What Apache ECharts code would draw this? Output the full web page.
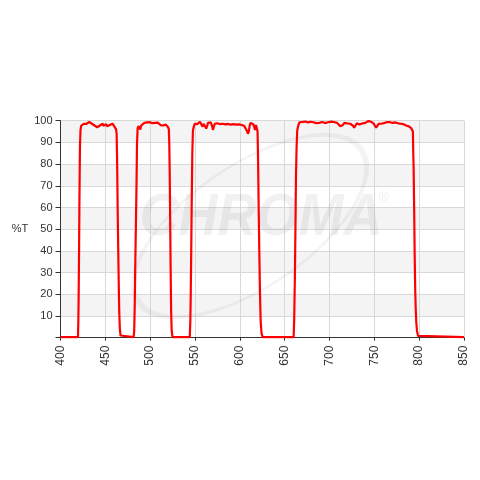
<!DOCTYPE html>
<html>
<head>
<meta charset="utf-8">
<script src="https://cdn.jsdelivr.net/npm/echarts@6/dist/echarts.min.js"></script>
<style>
  html, body { margin: 0; padding: 0; background: #fff; }
  #chart { width: 480px; height: 480px; }
</style>
</head>
<body>
<div id="chart"></div>
<script>
// 波长 (nm) 与透过率 (%T)
var wavelength = [
  400, 419.5, 419.9, 420.2, 420.7, 421.1, 421.7, 422.3,
  423, 424, 425, 426, 427, 428, 429, 430, 431, 432, 433, 434, 435, 436, 437, 438, 439, 440,
  441, 442, 443, 444, 445, 446, 447, 448, 449, 450, 451, 452, 453, 454, 455, 456, 457, 458,
  459, 460, 461, 462,
  462.6, 463, 463.3, 463.8, 464.4, 465, 465.5, 466.2, 467, 468,
  481.5, 482.2, 482.8, 483.4, 484.2, 484.8, 485.3, 486,
  487, 488, 489, 490, 491, 492, 493.5, 495, 496.5, 498, 499.5, 501, 502.5, 504, 505.5, 507,
  508.5, 510, 511.5, 513, 514.5, 516, 517.5, 519, 520,
  520.8, 521.3, 521.8, 522.3, 522.8, 523.4, 524, 525,
  544.2, 544.8, 545.2, 545.8, 546.3, 547, 547.7,
  548.5, 549.5, 550.5, 551.5, 552.5, 553.5, 554.5, 555.5, 556.5, 557.5, 558.5, 559.5, 560.5,
  561.5, 562.5, 563.5, 564.5, 566, 567.5, 569, 570, 571, 572, 573.5, 575, 576.5, 578, 579.5,
  581, 582.5, 584, 585.5, 587, 588.5, 590, 591.5, 593, 594.5, 596, 597.5, 599, 600.5, 602,
  603.5, 605, 606.5, 608, 609, 610, 611, 612, 613, 614, 615, 616, 617, 618, 619,
  619.8, 620.4, 621, 621.7, 622.4, 623.2, 624.2, 625.5,
  660, 660.6, 661.4, 662, 662.6, 663.3, 664, 665.3,
  666.5, 668, 669.5, 671, 673, 674.5, 676, 677.5, 679, 680.5, 682, 683.5, 685, 687, 688.5,
  690, 692, 693.5, 695, 697, 698.5, 700, 702, 703.5, 705, 707, 708.5, 710, 712, 713.5, 715,
  716.5, 718, 719.5, 721, 723, 724.5, 726, 727.5, 729, 730.5, 732, 733.5, 735.5, 737, 738.5,
  740, 741.5, 743, 744.5, 746, 747.5, 749, 750.5, 752, 753.5, 755, 756.5, 758, 760, 761.5,
  763, 764.5, 766, 767.5, 769, 770.5, 772, 773.5, 775, 776.5, 778, 779.5, 781, 782.5, 784,
  785.5, 787, 788.5, 790, 791, 792,
  793, 793.4, 793.8, 794.4, 795, 795.6, 796.1, 796.8, 797.6, 798.8, 800, 850
]
var transmission = [
  0.3, 0.3, 8, 17, 40, 63, 88, 95.5,
  97.6, 98.2, 97.8, 98.6, 98.3, 98.9, 98.5, 99.3, 99.0, 99.4, 98.8, 99.1, 98.6, 98.9, 98.2, 97.8, 97.4, 97.9,
  97.0, 96.6, 97.4, 97.8, 97.0, 98.2, 98.6, 97.6, 97.0, 97.6, 98.4, 97.4, 96.8, 97.6, 98.0, 97.4, 98.2, 98.6,
  98.0, 97.4, 97.0, 96.0,
  94, 85, 76, 58, 40, 24, 12, 4, 1, 0.3,
  0.3, 3, 15, 34, 55, 71, 89, 96.5,
  97.5, 96.6, 96.0, 97.8, 98.6, 98.2, 99.0, 98.6, 99.2, 98.7, 99.3, 98.6, 98.9, 98.3, 99.0, 98.6,
  99.1, 98.4, 98.0, 98.6, 97.8, 98.4, 98.2, 97.4, 97.0,
  96, 90, 76, 55, 33, 12, 3, 0.3,
  0.3, 8, 18, 40, 61, 85, 95.5,
  97, 98.5, 97.8, 99.3, 98.4, 98.9, 97.8, 99.5, 98.6, 99.0, 97.2, 98.6, 99.2,
  97.8, 96.4, 97.5, 99.0, 98.4, 99.2, 97.6, 95.8, 97.2, 98.6, 98.2, 98.8, 98.0, 98.4, 98.1,
  98.6, 97.9, 98.3, 98.0, 98.5, 97.8, 98.2, 98.0, 98.4, 97.6, 98.2, 97.8, 98.3, 97.5, 98.0,
  97.2, 97.6, 96.8, 95.2, 94.0, 95.0, 97.8, 99.0, 98.6, 99.2, 98.4, 97.2, 95.8, 98.0, 98.4,
  95, 80, 60, 40, 22, 8, 2, 0.3,
  0.3, 8, 28, 50, 74, 88, 95.5, 98,
  99.2, 98.4, 99.4, 98.8, 99.6, 98.8, 99.2, 98.6, 99.5, 98.8, 99.3, 98.4, 98.9, 98.2, 99.0,
  98.6, 99.4, 98.5, 98.9, 98.2, 99.3, 99.0, 99.6, 99.0, 99.4, 98.6, 99.0, 98.2, 97.4, 96.6, 98.0,
  99.0, 99.5, 98.8, 99.2, 98.6, 99.0, 97.8, 96.8, 97.8, 98.8, 99.2, 98.2, 97.6, 98.8, 99.5,
  99.0, 99.6, 99.8, 100, 99.6, 99.8, 98.8, 97.8, 96.8, 97.6, 98.6, 99.2, 98.6, 99.4, 99.0,
  99.8, 99.4, 99.9, 99.3, 99.6, 99.0, 99.5, 99.2, 99.6, 98.8, 99.3, 98.6, 99.0, 98.4, 98.8,
  97.8, 98.2, 97.4, 97.2, 96.6, 96.0,
  95, 85, 79, 60, 38, 22, 14, 7, 3, 0.8, 0.3, 0.3
]
var xTicks = [400, 450, 500, 550, 600, 650, 700, 750, 800, 850]
var yTicks = [10, 20, 30, 40, 50, 60, 70, 80, 90, 100]

var seriesData = wavelength.map(function (w, i) { return [w, transmission[i]] })

var chart = echarts.init(document.getElementById('chart'))
chart.setOption({
  animation: false,
  textStyle: { fontFamily: 'Liberation Sans' },
  grid: { left: 60.5, right: 16, top: 120.7, bottom: 142.3, containLabel: false },
  // 水印
  graphic: [
    {
      type: 'arc',
      x: 250, y: 226,
      rotation: 0.6,
      scaleY: 0.45,
      shape: { cx: 0, cy: 0, r: 135, startAngle: 0, endAngle: Math.PI * 2 },
      style: { stroke: 'rgba(0,0,0,0.045)', lineWidth: 6, fill: null },
      silent: true,
      z: 1
    },
    {
      type: 'text',
      x: 261, y: 218,
      scaleX: 0.9,
      style: {
        text: 'CHROMA',
        fontSize: 60,
        fontStyle: 'italic',
        fontWeight: 'bold',
        fontFamily: 'Liberation Sans',
        fill: 'rgba(0,0,0,0.055)',
        align: 'center',
        verticalAlign: 'middle'
      },
      silent: true,
      z: 1
    },
    {
      type: 'text',
      x: 384, y: 198,
      style: {
        text: '®',
        fontSize: 14,
        fontFamily: 'Liberation Sans',
        fill: 'rgba(0,0,0,0.08)',
        align: 'center',
        verticalAlign: 'middle'
      },
      silent: true,
      z: 1
    }
  ],
  xAxis: {
    type: 'value',
    min: 400,
    max: 850,
    interval: 50,
    axisLine: { show: true, onZero: false, lineStyle: { color: '#333', width: 1 } },
    axisTick: { show: true, length: 3, lineStyle: { color: '#333' } },
    axisLabel: {
      rotate: 90,
      margin: 8,
      fontSize: 12,
      color: '#333',
      formatter: function (v) { return xTicks.indexOf(v) >= 0 ? String(v) : '' }
    },
    splitLine: { show: true, lineStyle: { color: '#d8d8d8', width: 1 } }
  },
  yAxis: {
    type: 'value',
    min: 0,
    max: 100,
    interval: 10,
    name: '%T',
    nameLocation: 'middle',
    nameRotate: 0,
    nameGap: 30,
    nameTextStyle: { fontSize: 11, color: '#333', align: 'right' },
    axisLine: { show: true, lineStyle: { color: '#333', width: 1 } },
    axisTick: { show: true, length: 5, lineStyle: { color: '#333' } },
    axisLabel: {
      margin: 8,
      fontSize: 11,
      color: '#333',
      formatter: function (v) { return yTicks.indexOf(v) >= 0 ? String(v) : '' }
    },
    splitLine: { show: true, lineStyle: { color: '#d8d8d8', width: 1 } },
    splitArea: { show: true, areaStyle: { color: ['#ffffff', '#f4f4f4'] } }
  },
  series: [
    {
      name: '%T',
      type: 'line',
      data: seriesData,
      showSymbol: false,
      symbol: 'none',
      smooth: false,
      clip: true,
      lineStyle: { color: '#ff0000', width: 2.2 },
      z: 3
    }
  ]
})
</script>
</body>
</html>
